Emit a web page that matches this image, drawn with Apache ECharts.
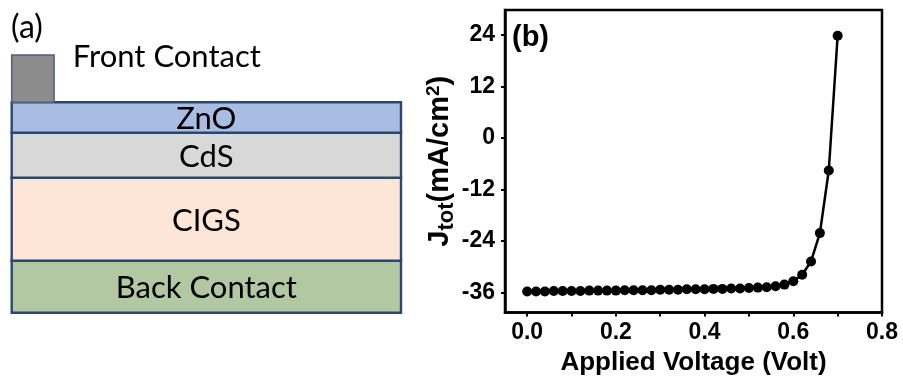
<!DOCTYPE html>
<html><head><meta charset="utf-8">
<script src="https://cdn.jsdelivr.net/npm/echarts@6/dist/echarts.min.js"></script>
<style>html,body{margin:0;padding:0;background:#fff;} #c{width:903px;height:376px;}</style>
</head><body><div id="c"></div>
<script>
// ---- panel (b) data ----
const voltage = [0.00,0.02,0.04,0.06,0.08,0.10,0.12,0.14,0.16,0.18,0.20,0.22,0.24,0.26,0.28,0.30,0.32,0.34,0.36,0.38,0.40,0.42,0.44,0.46,0.48,0.50,0.52,0.54,0.56,0.58,0.60,0.62,0.64,0.66,0.68,0.70];
const current = [-35.8,-35.8,-35.8,-35.7,-35.7,-35.7,-35.7,-35.6,-35.6,-35.6,-35.6,-35.5,-35.5,-35.5,-35.5,-35.4,-35.4,-35.4,-35.3,-35.3,-35.3,-35.2,-35.2,-35.1,-35.1,-35.0,-34.9,-34.8,-34.6,-34.2,-33.4,-31.9,-28.8,-22.2,-7.6,23.8];
const xTickValues = [0,0.1,0.2,0.3,0.4,0.5,0.6,0.7,0.8];
const xLabelValues = [0,0.2,0.4,0.6,0.8];
const yTickValues = [-36,-24,-12,0,12,24];
// ---- panel (a) data ----
const layerNames = ['Back Contact','CIGS','CdS','ZnO'];
const layerThickness = [52,83,45,30.4];
const frontContactName = 'Front Contact';
const frontContactWidth = 10.9;   // percent of stack width
const frontContactHeight = 47.3;

const layerColors = ['#b2c8a3','#fde6d8','#d9d8d9','#a9bde3'];
const layerBorder = '#2c4670';

// build layer ranges
const layerData = [];
let acc = 0;
for (let i = 0; i < layerNames.length; i++) {
  layerData.push([acc, acc + layerThickness[i], i]);
  acc += layerThickness[i];
}
const stackTop = acc;
const fcData = [[stackTop, stackTop + frontContactHeight, frontContactWidth]];

const chart = echarts.init(document.getElementById('c'), null, {renderer:'canvas'});
const boldFont = 'Liberation Sans';
const schemFont = '31px Lato';
const option = {
  animation: false,
  backgroundColor: '#fff',
  graphic: [
    {type:'text', left: 11, top: 12, style:{text:'(a)', font:'32px Lato', fill:'#000'}},
    {type:'text', left: 512, top: 23, style:{text:'(b)', font:'bold 29px "Liberation Sans"', fill:'#000'}}
  ],
  grid: [
    {left: 11.7, top: 55, width: 389.3, height: 257.7, outerBoundsMode:'none', containLabel:false},
    {left: 505, top: 10, width: 377, height: 302.5, outerBoundsMode:'none', containLabel:false,
     show: true, borderColor:'#000', borderWidth: 2.5, backgroundColor:'transparent'}
  ],
  xAxis: [
    {gridIndex:0, type:'value', min:0, max:100, show:false},
    {gridIndex:1, type:'value', min:-0.05, max:0.8,
     axisLine:{show:true, onZero:false, lineStyle:{color:'#000', width:2.5}},
     axisTick:{show:true, customValues:xTickValues, length:4, lineStyle:{color:'#000', width:2}},
     axisLabel:{customValues:xLabelValues, formatter:(v)=>v.toFixed(1), color:'#000', fontFamily:boldFont, fontWeight:'bold', fontSize:23, margin:9},
     splitLine:{show:false},
     name:'Applied Voltage (Volt)', nameLocation:'middle', nameGap:34,
     nameTextStyle:{color:'#000', fontFamily:boldFont, fontWeight:'bold', fontSize:26}
    }
  ],
  yAxis: [
    {gridIndex:0, type:'value', min:0, max:stackTop + frontContactHeight, show:false},
    {gridIndex:1, type:'value', min:-40.7, max:29.8,
     axisLine:{show:true, onZero:false, lineStyle:{color:'#000', width:2.5}},
     axisTick:{show:true, customValues:yTickValues, length:4, lineStyle:{color:'#000', width:2}},
     axisLabel:{customValues:yTickValues, color:'#000', fontFamily:boldFont, fontWeight:'bold', fontSize:23, margin:10},
     splitLine:{show:false},
     name:'{j|J}{sub|tot}{m|(mA/cm}{sup|2}{m|)}', nameLocation:'middle', nameGap:41, nameRotate:90,
     nameTextStyle:{color:'#000', rich:{
       j:{fontFamily:boldFont, fontWeight:'bold', fontSize:29, color:'#000'},
       m:{fontFamily:boldFont, fontWeight:'bold', fontSize:29, color:'#000'},
       sub:{fontFamily:boldFont, fontWeight:'bold', fontSize:22, color:'#000', padding:[13,0,0,0]},
       sup:{fontFamily:boldFont, fontWeight:'bold', fontSize:19, color:'#000', padding:[0,0,13,0]}
     }}
    }
  ],
  series: [
    {
      type:'custom', xAxisIndex:0, yAxisIndex:0, data: layerData, clip:false,
      renderItem: function(params, api) {
        const i = api.value(2);
        const p0 = api.coord([0, api.value(0)]);
        const p1 = api.coord([100, api.value(1)]);
        return {type:'group', children:[
          {type:'rect', shape:{x:p0[0], y:p1[1], width:p1[0]-p0[0], height:p0[1]-p1[1]},
           style:{fill:layerColors[i], stroke:layerBorder, lineWidth:2.4}},
          {type:'text', style:{text:layerNames[i], x:(p0[0]+p1[0])/2, y:(p0[1]+p1[1])/2 + 1.5,
            align:'center', verticalAlign:'middle', font:schemFont, fill:'#000'}}
        ]};
      }
    },
    {
      type:'custom', xAxisIndex:0, yAxisIndex:0, data: fcData, clip:false,
      renderItem: function(params, api) {
        const p0 = api.coord([0, api.value(0)]);
        const p1 = api.coord([api.value(2), api.value(1)]);
        return {type:'group', children:[
          {type:'rect', shape:{x:p0[0], y:p1[1], width:p1[0]-p0[0], height:p0[1]-p1[1]},
           style:{fill:'#8c8c8c', stroke:'#50607a', lineWidth:1.5}},
          {type:'text', style:{text:frontContactName, x:p1[0]+18.7, y:p1[1]+2,
            align:'left', verticalAlign:'middle', font:schemFont, fill:'#000'}}
        ]};
      }
    },
    {
      type:'line', xAxisIndex:1, yAxisIndex:1,
      data: voltage.map((v,i)=>[v, current[i]]),
      symbol:'circle', symbolSize:10, showSymbol:true,
      itemStyle:{color:'#000'}, lineStyle:{color:'#000', width:2.5}
    }
  ]
};
chart.setOption(option);
</script>
</body></html>
